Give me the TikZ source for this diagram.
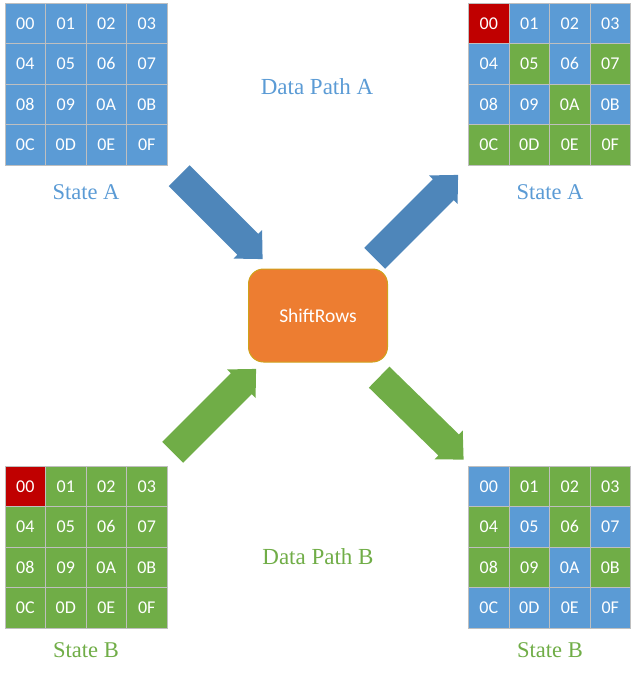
\documentclass[tikz,border=0pt]{standalone}
\usepackage{fontspec}
\setmainfont{Liberation Serif}
\newfontfamily\cellfont{Carlito}
\usetikzlibrary{shapes.arrows}

\definecolor{cblue}{HTML}{5B9BD5}
\definecolor{cgreen}{HTML}{70AD47}
\definecolor{cred}{HTML}{C00000}
\definecolor{arrblue}{HTML}{4E86BA}
\definecolor{boxorange}{HTML}{ED7D31}
\definecolor{boxedge}{HTML}{CFA21C}

\tikzset{
  cell/.style={draw=black!25, line width=1pt, minimum size=40.5pt, inner sep=0pt,
    text=white, font=\cellfont\fontsize{18}{18}\selectfont},
  statelabel/.style={anchor=base, font=\fontsize{22.5}{24}\selectfont},
  blockarrow/.style={single arrow, draw=none, inner xsep=0pt, inner ysep=14.5pt, anchor=tail,
    minimum height=118pt, minimum width=40pt, single arrow head extend=5.5pt,
    single arrow tip angle=88}
}

% one 4x4 state: #1 name, #2 left, #3 top, #4 cells as label/colour
\newcommand{\stategrid}[4]{%
  \foreach \lbl/\col [count=\i from 0] in {#4}{
    \pgfmathtruncatemacro{\cc}{mod(\i,4)}
    \pgfmathtruncatemacro{\rr}{\i/4}
    \node[cell, fill=\col] (#1-\lbl) at ({#2+\cc*40.5+20.25},{#3+\rr*40.5+20.25}) {\lbl};
  }}

\begin{document}
\begin{tikzpicture}[x=1pt, y=-1pt]
  \useasboundingbox (0,0) rectangle (641,675);
  % Input states
  \stategrid{inA}{5}{3}{00/cblue,01/cblue,02/cblue,03/cblue,04/cblue,05/cblue,06/cblue,07/cblue,
    08/cblue,09/cblue,0A/cblue,0B/cblue,0C/cblue,0D/cblue,0E/cblue,0F/cblue}
  \stategrid{inB}{5}{466}{00/cred,01/cgreen,02/cgreen,03/cgreen,04/cgreen,05/cgreen,06/cgreen,07/cgreen,
    08/cgreen,09/cgreen,0A/cgreen,0B/cgreen,0C/cgreen,0D/cgreen,0E/cgreen,0F/cgreen}
  % Output states
  \stategrid{outA}{468.5}{3}{00/cred,01/cblue,02/cblue,03/cblue,04/cblue,05/cgreen,06/cblue,07/cgreen,
    08/cblue,09/cblue,0A/cgreen,0B/cblue,0C/cgreen,0D/cgreen,0E/cgreen,0F/cgreen}
  \stategrid{outB}{468.5}{466}{00/cblue,01/cgreen,02/cgreen,03/cgreen,04/cgreen,05/cblue,06/cgreen,07/cblue,
    08/cgreen,09/cgreen,0A/cblue,0B/cgreen,0C/cblue,0D/cblue,0E/cblue,0F/cblue}
  % Labels
  \node[statelabel, text=cblue] (lblInA) at (86,199) {State A};
  \node[statelabel, text=cblue] (lblOutA) at (550,199) {State A};
  \node[statelabel, text=cgreen] (lblInB) at (86,657) {State B};
  \node[statelabel, text=cgreen] (lblOutB) at (550,657) {State B};
  \node[statelabel, text=cblue, font=\fontsize{23}{24}\selectfont] (pathA) at (317,94) {Data Path A};
  \node[statelabel, text=cgreen, font=\fontsize{23}{24}\selectfont] (pathB) at (318,564.5) {Data Path B};
  % ShiftRows box
  \node[fill=boxorange, draw=boxedge, line width=1pt, rounded corners=15pt,
    minimum width=139pt, minimum height=93pt, text=white,
    font=\cellfont\fontsize{19.5}{20}\selectfont] (shift) at (318,315.5) {ShiftRows};
  % Block arrows
  \node[blockarrow, fill=arrblue, rotate=-45] (arrInA) at (179,175.5) {};
  \node[blockarrow, fill=arrblue, rotate=45] (arrOutA) at (374.5,258.5) {};
  \node[blockarrow, fill=cgreen, rotate=45] (arrInB) at (172.5,452.5) {};
  \node[blockarrow, fill=cgreen, rotate=-44.3] (arrOutB) at (379,377) {};
\end{tikzpicture}
\end{document}
